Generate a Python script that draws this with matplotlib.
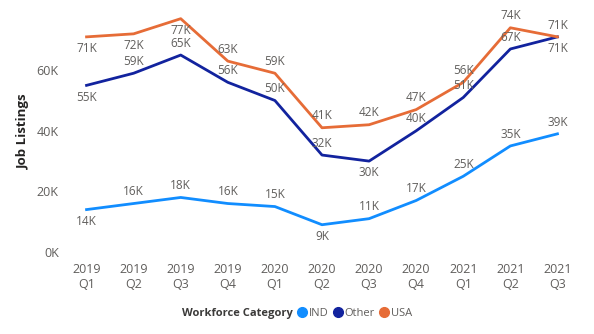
import matplotlib
matplotlib.use("Agg")
import matplotlib.pyplot as plt
from matplotlib.lines import Line2D
from matplotlib.offsetbox import HPacker

plt.rcParams['font.family'] = ['Open Sans', 'DejaVu Sans']

quarters = ["2019\nQ1", "2019\nQ2", "2019\nQ3", "2019\nQ4", "2020\nQ1", "2020\nQ2",
            "2020\nQ3", "2020\nQ4", "2021\nQ1", "2021\nQ2", "2021\nQ3"]
ind = [14, 16, 18, 16, 15, 9, 11, 17, 25, 35, 39]
other = [55, 59, 65, 56, 50, 32, 30, 40, 51, 67, 71]
usa = [71, 72, 77, 63, 59, 41, 42, 47, 56, 74, 71]

# label position: 1 above, -1 below
ind_pos = [-1, 1, 1, 1, 1, -1, 1, 1, 1, 1, 1]
other_pos = [-1, 1, 1, 1, 1, 1, -1, 1, 1, 1, -1]
usa_pos = [-1, -1, -1, 1, 1, 1, 1, 1, 1, 1, 1]

series = [("IND", ind, ind_pos, "#118DFF"),
          ("Other", other, other_pos, "#12239E"),
          ("USA", usa, usa_pos, "#E66C37")]

fig = plt.figure(figsize=(5.94, 3.34), dpi=100)
ax = fig.add_axes([63/594, 82/334, 518/594, 242.4/334])

x = list(range(len(quarters)))
label_color = "#605E5C"
for name, vals, pos, col in series:
    ax.plot(x, [v * 1000 for v in vals], color=col, lw=2.0, solid_joinstyle='round')
    for xi, v, p in zip(x, vals, pos):
        ax.annotate(f"{v}K", (xi, v * 1000), xytext=(0, 8.5 * p), textcoords='offset points',
                    ha='center', va='center', fontsize=8.5, color=label_color)

ax.set_xlim(-0.5, len(quarters) - 0.5)
ax.set_ylim(0, 80000)
ax.set_yticks([0, 20000, 40000, 60000])
ax.set_yticklabels(["0K", "20K", "40K", "60K"])
ax.set_xticks(x)
ax.set_xticklabels(quarters)
ax.tick_params(axis='both', length=0, labelsize=9, colors=label_color)
ax.tick_params(axis='y', pad=3)
ax.tick_params(axis='x', pad=8)
for s in ax.spines.values():
    s.set_visible(False)
ax.set_ylabel("Job Listings", fontsize=9.5, fontweight='bold', color="#252423", labelpad=5)

handles = [Line2D([0], [0], marker='o', color='none', markerfacecolor=c, markeredgecolor=c,
                  markersize=7) for _, _, _, c in series]
leg = fig.legend(handles, [s[0] for s in series], loc='center', bbox_to_anchor=(0.5, 0.062),
                 ncol=3, frameon=False, fontsize=8, handletextpad=0.25, columnspacing=0.5,
                 handlelength=0.7,
                 title="Workforce Category", title_fontproperties={'weight': 'bold', 'size': 8},
                 labelcolor=label_color)
title_box = leg._legend_title_box
entries = leg._legend_handle_box
leg._legend_box._children = [HPacker(pad=0, sep=4, children=[title_box, entries], align="center")]
leg.get_title().set_color("#3B3A39")

fig.savefig("out.png", dpi=100)
